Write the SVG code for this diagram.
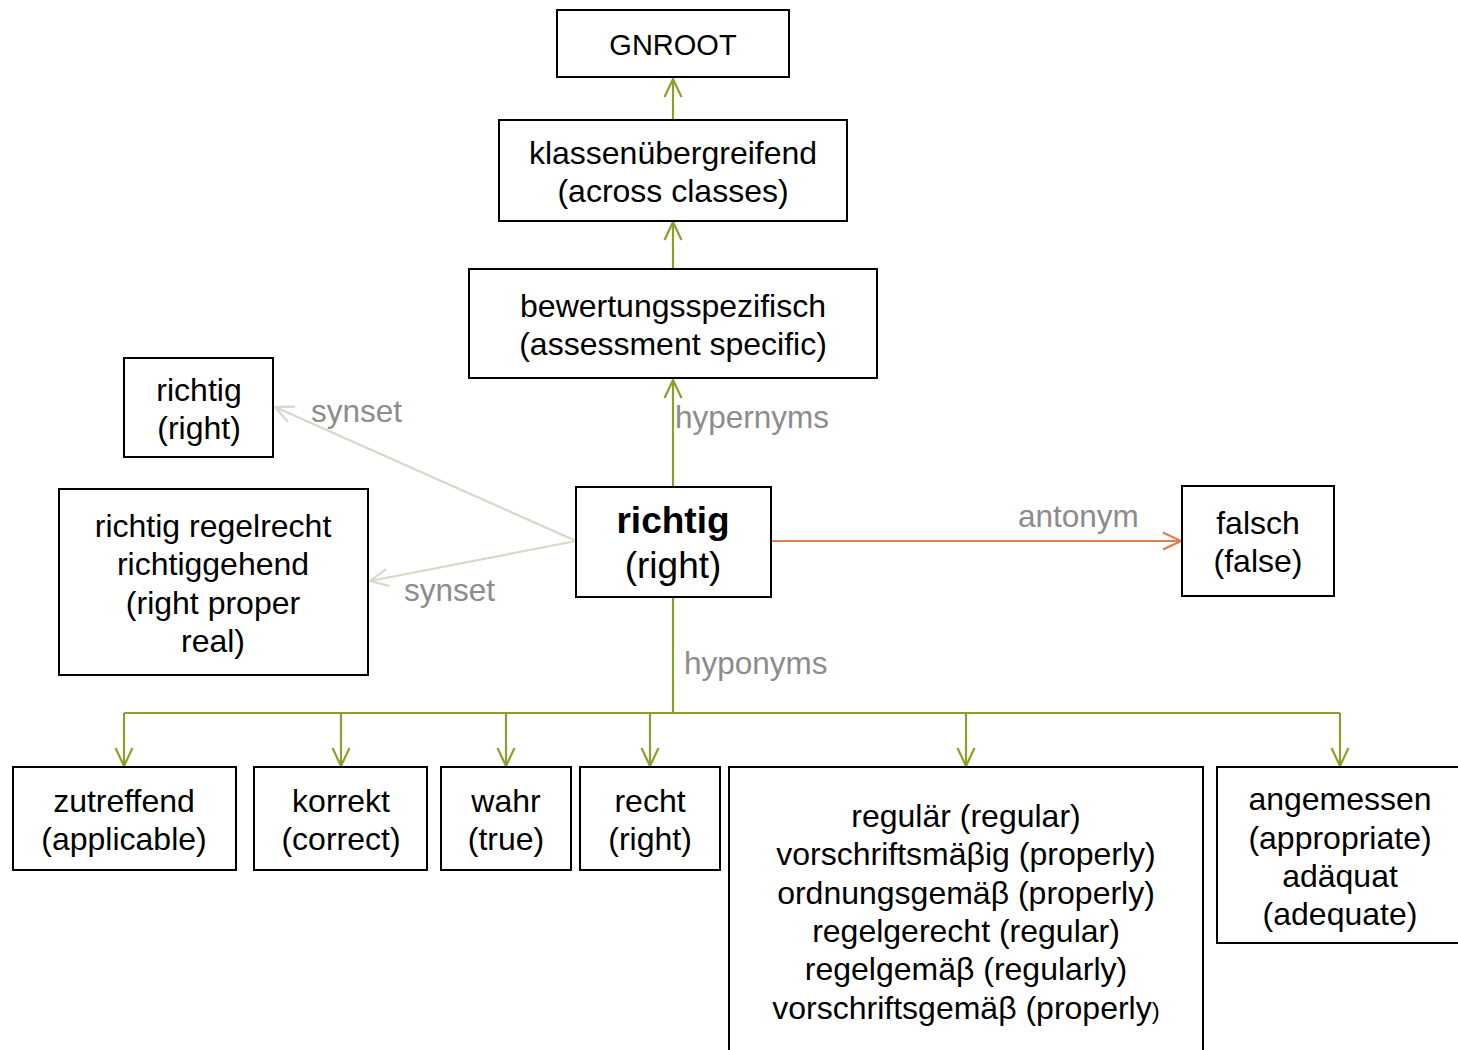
<svg xmlns="http://www.w3.org/2000/svg" width="1458" height="1050" viewBox="0 0 1458 1050">
  <style>
    .box { fill: #ffffff; stroke: #000000; stroke-width: 2; }
    .t { font-family: "Liberation Sans", Arial, sans-serif; font-size: 32px; fill: #000000; text-anchor: middle; }
    .tb { font-family: "Liberation Sans", Arial, sans-serif; font-size: 37px; fill: #000000; text-anchor: middle; }
    .lbl { font-family: "Liberation Sans", Arial, sans-serif; font-size: 31.5px; fill: #8c8c8c; }
    .hyp { fill: none; stroke: #8ba02c; stroke-width: 2.2; }
    .syn { fill: none; stroke: #d9d7c9; stroke-width: 2.2; }
    .ant { fill: none; stroke: #e37d4a; stroke-width: 2.2; }
  </style>
  <defs>
    <marker id="ahGreen" viewBox="0 0 20 20" refX="19" refY="10" markerWidth="20" markerHeight="20" markerUnits="userSpaceOnUse" orient="auto">
      <path d="M1,1.5 L19,10 L1,18.5" fill="none" stroke="#8ba02c" stroke-width="2.2"/>
    </marker>
    <marker id="ahSyn" viewBox="0 0 20 20" refX="19" refY="10" markerWidth="20" markerHeight="20" markerUnits="userSpaceOnUse" orient="auto">
      <path d="M1,1.5 L19,10 L1,18.5" fill="none" stroke="#d9d7c9" stroke-width="2.2"/>
    </marker>
    <marker id="ahAnt" viewBox="0 0 20 20" refX="19" refY="10" markerWidth="20" markerHeight="20" markerUnits="userSpaceOnUse" orient="auto">
      <path d="M1,1.5 L19,10 L1,18.5" fill="none" stroke="#e37d4a" stroke-width="2.2"/>
    </marker>
  </defs>

  <rect width="1458" height="1050" fill="#ffffff"/>

  <!-- connectors -->
  <g id="connectors">
    <line class="hyp" x1="673" y1="120" x2="673" y2="79" marker-end="url(#ahGreen)"/>
    <line class="hyp" x1="673" y1="269" x2="673" y2="222" marker-end="url(#ahGreen)"/>
    <line class="hyp" x1="673" y1="487" x2="673" y2="380" marker-end="url(#ahGreen)"/>
    <text class="lbl" x="675" y="428">hypernyms</text>

    <line class="syn" x1="576" y1="541" x2="275" y2="407" marker-end="url(#ahSyn)"/>
    <line class="syn" x1="576" y1="541" x2="370" y2="581" marker-end="url(#ahSyn)"/>
    <text class="lbl" x="311" y="422">synset</text>
    <text class="lbl" x="404" y="601">synset</text>

    <line class="ant" x1="771" y1="541" x2="1181" y2="541" marker-end="url(#ahAnt)"/>
    <text class="lbl" x="1018" y="527">antonym</text>

    <polyline class="hyp" points="673,597 673,713"/>
    <line class="hyp" x1="124" y1="713" x2="1340" y2="713"/>
    <line class="hyp" x1="124" y1="713" x2="124" y2="766" marker-end="url(#ahGreen)"/>
    <line class="hyp" x1="341" y1="713" x2="341" y2="766" marker-end="url(#ahGreen)"/>
    <line class="hyp" x1="506" y1="713" x2="506" y2="766" marker-end="url(#ahGreen)"/>
    <line class="hyp" x1="650" y1="713" x2="650" y2="766" marker-end="url(#ahGreen)"/>
    <line class="hyp" x1="966" y1="713" x2="966" y2="766" marker-end="url(#ahGreen)"/>
    <line class="hyp" x1="1340" y1="713" x2="1340" y2="766" marker-end="url(#ahGreen)"/>
    <text class="lbl" x="684" y="674">hyponyms</text>
  </g>

  <!-- nodes -->
  <g id="gnroot">
    <rect class="box" x="557" y="10" width="232" height="67"/>
    <text class="t" x="673" y="55" style="font-size:29px">GNROOT</text>
  </g>
  <g id="klassenuebergreifend">
    <rect class="box" x="499" y="120" width="348" height="101"/>
    <text class="t" x="673" y="164">klassenübergreifend</text>
    <text class="t" x="673" y="202">(across classes)</text>
  </g>
  <g id="bewertungsspezifisch">
    <rect class="box" x="469" y="269" width="408" height="109"/>
    <text class="t" x="673" y="317">bewertungsspezifisch</text>
    <text class="t" x="673" y="355">(assessment specific)</text>
  </g>
  <g id="richtig-synset1">
    <rect class="box" x="124" y="358" width="149" height="99"/>
    <text class="t" x="199" y="401">richtig</text>
    <text class="t" x="199" y="439">(right)</text>
  </g>
  <g id="richtig-synset2">
    <rect class="box" x="59" y="489" width="309" height="186"/>
    <text class="t" x="213" y="537">richtig regelrecht</text>
    <text class="t" x="213" y="575">richtiggehend</text>
    <text class="t" x="213" y="614">(right proper</text>
    <text class="t" x="213" y="652">real)</text>
  </g>
  <g id="richtig">
    <rect class="box" x="576" y="487" width="195" height="110"/>
    <text class="tb" x="673" y="533" font-weight="bold">richtig</text>
    <text class="tb" x="673" y="578">(right)</text>
  </g>
  <g id="falsch">
    <rect class="box" x="1182" y="486" width="152" height="110"/>
    <text class="t" x="1258" y="534">falsch</text>
    <text class="t" x="1258" y="572">(false)</text>
  </g>
  <g id="zutreffend">
    <rect class="box" x="13" y="767" width="223" height="103"/>
    <text class="t" x="124" y="812">zutreffend</text>
    <text class="t" x="124" y="850">(applicable)</text>
  </g>
  <g id="korrekt">
    <rect class="box" x="254" y="767" width="173" height="103"/>
    <text class="t" x="341" y="812">korrekt</text>
    <text class="t" x="341" y="850">(correct)</text>
  </g>
  <g id="wahr">
    <rect class="box" x="441" y="767" width="130" height="103"/>
    <text class="t" x="506" y="812">wahr</text>
    <text class="t" x="506" y="850">(true)</text>
  </g>
  <g id="recht">
    <rect class="box" x="580" y="767" width="140" height="103"/>
    <text class="t" x="650" y="812">recht</text>
    <text class="t" x="650" y="850">(right)</text>
  </g>
  <g id="regulaer">
    <rect class="box" x="729" y="767" width="474" height="300"/>
    <text class="t" x="966" y="827">regulär (regular)</text>
    <text class="t" x="966" y="865">vorschriftsmäβig (properly)</text>
    <text class="t" x="966" y="904">ordnungsgemäβ (properly)</text>
    <text class="t" x="966" y="942">regelgerecht (regular)</text>
    <text class="t" x="966" y="980">regelgemäβ (regularly)</text>
    <text class="t" x="966" y="1019">vorschriftsgemäβ (properly<tspan font-size="24">)</tspan></text>
  </g>
  <g id="angemessen">
    <rect class="box" x="1217" y="767" width="250" height="176"/>
    <text class="t" x="1340" y="810">angemessen</text>
    <text class="t" x="1340" y="849">(appropriate)</text>
    <text class="t" x="1340" y="887">adäquat</text>
    <text class="t" x="1340" y="925">(adequate)</text>
  </g>
</svg>
